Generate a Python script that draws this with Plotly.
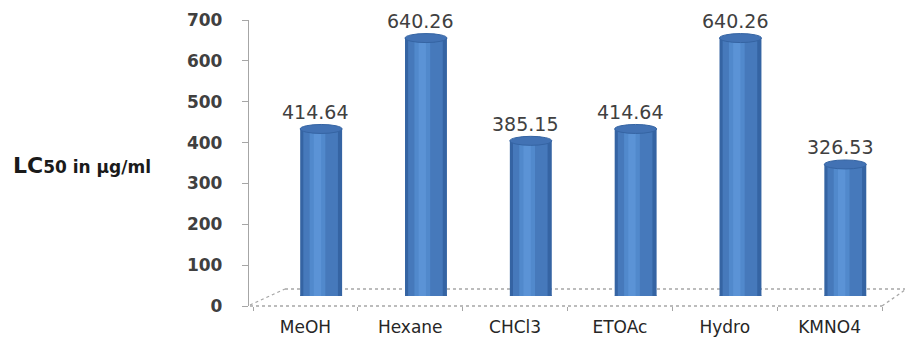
import plotly.graph_objects as go

categories = ["MeOH", "Hexane", "CHCl3", "ETOAc", "Hydro", "KMNO4"]
lc50_values = [414.64, 640.26, 385.15, 414.64, 640.26, 326.53]
value_labels = ["414.64", "640.26", "385.15", "414.64", "640.26", "326.53"]
y_ticks = [0, 100, 200, 300, 400, 500, 600, 700]

W, H = 912, 341
def fx(px):
    return px / W
def fy(py):
    return 1 - py / H

fig = go.Figure()

# invisible trace so that the left value axis is drawn
fig.add_trace(go.Scatter(x=categories, y=[0] * len(categories), mode="markers",
                         marker=dict(opacity=0), xaxis="x", yaxis="y",
                         hoverinfo="skip", showlegend=False))

OFF = -0.05
BW = 0.40
layers = [
    (OFF, BW, "#3564a3"),
    (OFF + 0.03, BW - 0.07, "#4679bb"),
    (OFF + 0.09, 0.15, "#5189cc"),
    (OFF + 0.13, 0.07, "#5b93d6"),
]
for off, w, col in layers:
    fig.add_trace(go.Bar(
        x=categories, y=lc50_values, offset=off, width=w,
        marker=dict(color=col, line=dict(width=0)),
        xaxis="x", yaxis="y2", hoverinfo="skip", showlegend=False,
    ))

# top and bottom faces of the cylinders
for i, v in enumerate(lc50_values):
    fig.add_shape(type="circle", xref="x", yref="y2", ysizemode="pixel",
                  yanchor=v, y0=-4.5, y1=4.5, x0=i + OFF, x1=i + OFF + BW,
                  fillcolor="#4272b4", line=dict(color="#3564a3", width=1), layer="above")
    fig.add_shape(type="circle", xref="x", yref="y2", ysizemode="pixel",
                  yanchor=0, y0=-4.5, y1=4.5, x0=i + OFF, x1=i + OFF + BW,
                  fillcolor="#3f70b2", line=dict(width=0), layer="below")
    fig.add_annotation(x=categories[i], y=v, xref="x", yref="y2", text=value_labels[i],
                       showarrow=False, yanchor="bottom", xshift=10, yshift=4,
                       font=dict(family="DejaVu Sans", size=19, color="#404040"))

# 3D floor (dotted)
floor_col = "#a6a6a6"
for (x0, y0, x1, y1) in [(250, 306, 882, 306), (285, 289, 905, 289),
                         (250, 305, 285, 289), (882, 306, 905, 290)]:
    fig.add_shape(type="line", xref="paper", yref="paper",
                  x0=fx(x0), y0=fy(y0), x1=fx(x1), y1=fy(y1),
                  line=dict(color=floor_col, width=1.3, dash="dot"), layer="below")

fig.add_annotation(xref="paper", yref="paper", x=fx(11), y=fy(165), xanchor="left",
                   yanchor="middle", showarrow=False,
                   text="<b>LC</b><span style='font-size:17px'><b>50 in µg/ml</b></span>",
                   font=dict(family="DejaVu Sans", size=22, color="#1a1a1a"))

fig.update_layout(
    width=W, height=H, margin=dict(l=0, r=0, t=0, b=0, autoexpand=False),
    paper_bgcolor="white", plot_bgcolor="rgba(0,0,0,0)",
    barmode="overlay", showlegend=False,
    xaxis=dict(domain=[fx(253), fx(882)], anchor="free", position=fy(306),
               range=[-0.5, 5.5], showline=False, showgrid=False, zeroline=False,
               automargin=False,
               ticks="outside", ticklen=4, tickcolor=floor_col, tickson="boundaries",
               ticklabelstandoff=9,
               tickfont=dict(family="DejaVu Sans", size=17, color="#262626")),
    yaxis=dict(domain=[fy(306), fy(20)], range=[0, 700], anchor="free", position=fx(248),
               automargin=False,
               tickvals=y_ticks, showgrid=False, zeroline=False, showline=True,
               linecolor=floor_col, linewidth=1.3, ticks="outside", ticklen=6,
               tickcolor=floor_col, ticklabelstandoff=16,
               tickfont=dict(family="DejaVu Sans", size=17, color="#404040", weight="bold")),
    yaxis2=dict(domain=[fy(296), fy(14)], range=[0, 700], anchor="x",
                automargin=False, visible=False),
)

fig.write_html("out.html")
